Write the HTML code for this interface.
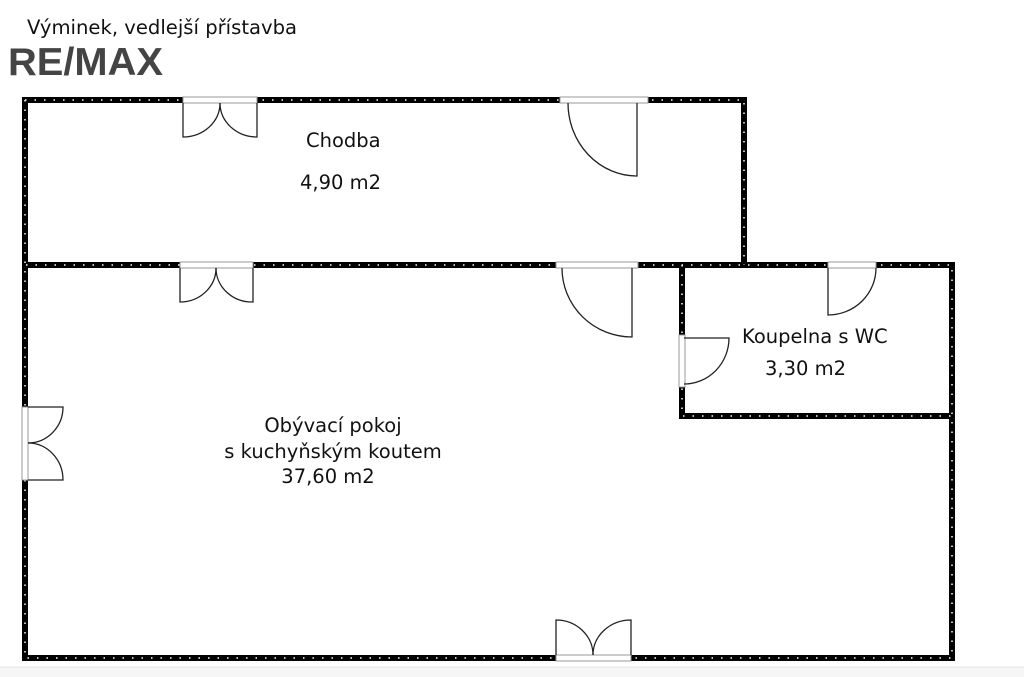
<!DOCTYPE html>
<html><head><meta charset="utf-8"><style>
body{margin:0;width:1024px;height:677px;background:#fff;overflow:hidden;font-family:"Liberation Sans","DejaVu Sans",sans-serif}
</style></head><body>
<svg width="1024" height="677" xmlns="http://www.w3.org/2000/svg" style="position:absolute;left:0;top:0">
<rect x="0" y="667" width="1024" height="10" fill="#f6f6f6"/>
<line x1="0" y1="667" x2="1024" y2="667" stroke="#e6e6e6"/>
<text x="27" y="34" font-size="19.6" fill="#111" font-family="DejaVu Sans, sans-serif">Výminek, vedlejší přístavba</text>
<text x="8" y="75" font-size="39" font-weight="bold" fill="#444" font-family="Liberation Sans, sans-serif" textLength="155" lengthAdjust="spacingAndGlyphs">RE/MAX</text>
<g fill="none" stroke="#000" stroke-width="6" stroke-linecap="square">
<path d="M25 100 H744 V265 M25 100 V658 H952 V265 H25 M682 265 V416 H952"/>
</g>
<g fill="none" stroke="#fff" stroke-width="1.5" stroke-dasharray="1.5 8">
<path d="M25 100 H744 V265 M25 100 V658 H952 V265 H25 M682 265 V416 H952"/>
</g>
<g fill="#fff" stroke="#999" stroke-width="1">
<rect x="183" y="97" width="74" height="6"/>
<rect x="560" y="97" width="88" height="6"/>
<rect x="180" y="262" width="73" height="6"/>
<rect x="556" y="262" width="82" height="6"/>
<rect x="828" y="262" width="48" height="6"/>
<rect x="679" y="335" width="6" height="52"/>
<rect x="22" y="407" width="6" height="73"/>
<rect x="556" y="655" width="75" height="6"/>
</g>
<g fill="none" stroke="#222" stroke-width="1.3">
<path d="M183 103 V137 A37 34 0 0 0 220 103"/>
<path d="M257 103 V137 A37 34 0 0 1 220 103"/>
<path d="M637 103 V176 A69 73 0 0 1 568 103"/>
<path d="M180 268 V302 A36 34 0 0 0 216 268"/>
<path d="M253 268 V302 A36 34 0 0 1 216 268"/>
<path d="M632 268 V337 A70 69 0 0 1 562 268"/>
<path d="M828 268 V315 A48 47 0 0 0 876 268"/>
<path d="M684 338 H729 A45 46 0 0 1 684 384"/>
<path d="M28 407 H63 A35 36 0 0 1 28 443"/>
<path d="M28 480 H63 A35 37 0 0 0 28 443"/>
<path d="M556 655 V620 A37 35 0 0 1 593 655"/>
<path d="M631 655 V620 A38 35 0 0 0 593 655"/>
</g>
<g font-size="19.5" fill="#111" font-family="DejaVu Sans, sans-serif">
<text x="306" y="147">Chodba</text>
<text x="300" y="189">4,90 m2</text>
<text x="742" y="343">Koupelna s WC</text>
<text x="765" y="375">3,30 m2</text>
<text x="333" y="432" text-anchor="middle">Obývací pokoj</text>
<text x="333" y="458" text-anchor="middle">s kuchyňským koutem</text>
<text x="328" y="483" text-anchor="middle">37,60 m2</text>
</g>
</svg>
</body></html>
